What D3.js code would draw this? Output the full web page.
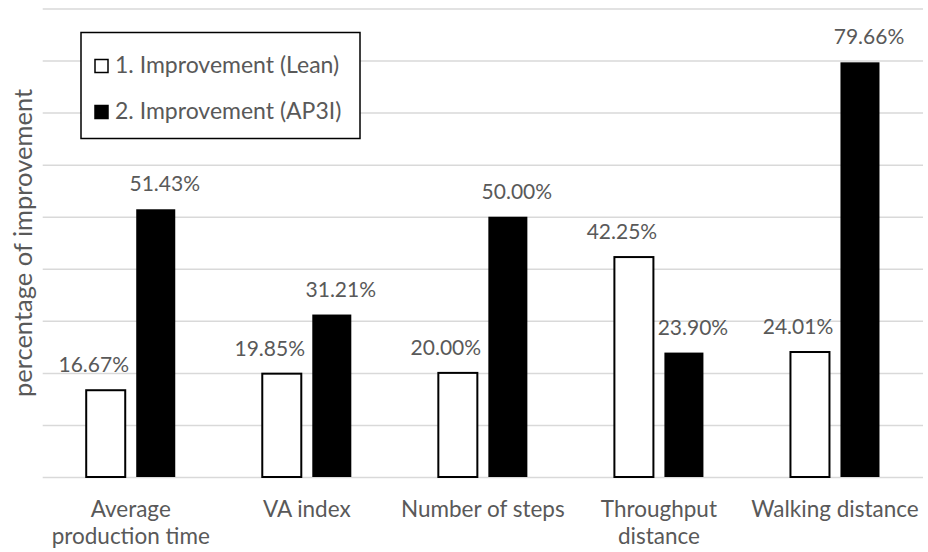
<!DOCTYPE html>
<html>
<head>
<meta charset="utf-8">
<script src="https://cdn.jsdelivr.net/npm/d3@7"></script>
<style>
  body { margin: 0; background: #fff; }
  text { font-family: Lato, "Open Sans", sans-serif; fill: #595959; }
</style>
</head>
<body>
<svg id="chart" width="928" height="552"></svg>
<script>
// categories (line-broken the way the chart wraps them)
const categories = ["Average production time", "VA index", "Number of steps", "Throughput distance", "Walking distance"];
const categoryLines = [["Average", "production time"], ["VA index"], ["Number of steps"], ["Throughput", "distance"], ["Walking distance"]];
const seriesNames = ["1. Improvement (Lean)", "2. Improvement (AP3I)"];
const leanValues = [16.67, 19.85, 20.00, 42.25, 24.01];
const ap3iValues = [51.43, 31.21, 50.00, 23.90, 79.66];
const gridTicks = [0, 10, 20, 30, 40, 50, 60, 70, 80, 90];

const svg = d3.select('#chart');
const margin = { top: 8.5, bottom: 75, right: 5, left: 42.7 };
const width = 928, height = 552;
const innerWidth = width - margin.left - margin.right;
const innerHeight = height - margin.top - margin.bottom;

const g = svg.append('g')
  .attr('transform', `translate(${margin.left},${margin.top})`);

const xScale = d3.scaleBand()
  .domain(categories)
  .range([0, innerWidth]);

const xSub = d3.scaleBand()
  .domain(["lean", "ap3i"])
  .range([0, xScale.bandwidth()])
  .paddingInner(0.22)
  .paddingOuter(0.87);

const yScale = d3.scaleLinear()
  .domain([0, 90])
  .range([innerHeight, 0]);

//gridlines, no tick labels
const yAxis = d3.axisLeft(yScale)
  .tickValues(gridTicks)
  .tickSize(-innerWidth)
  .tickFormat('');
g.append('g').call(yAxis)
  .call(a => a.select('.domain').remove())
  .selectAll('line')
  .attr('stroke', '#d9d9d9')
  .attr('stroke-width', 1.5);

const rows = categories.map((c, i) => ({ cat: c, lean: leanValues[i], ap3i: ap3iValues[i], lines: categoryLines[i] }));

// white bars
g.selectAll('.leanBar')
  .data(rows)
  .enter()
  .append('rect')
  .attr('x', d => xScale(d.cat) + xSub('lean'))
  .attr('y', d => yScale(d.lean))
  .attr('width', xSub.bandwidth())
  .attr('height', d => yScale(0) - yScale(d.lean))
  .attr('fill', '#fff')
  .attr('stroke', '#000')
  .attr('stroke-width', 2);

// black bars
g.selectAll('.ap3iBar')
  .data(rows)
  .enter()
  .append('rect')
  .attr('x', d => xScale(d.cat) + xSub('ap3i'))
  .attr('y', d => yScale(d.ap3i))
  .attr('width', xSub.bandwidth())
  .attr('height', d => yScale(0) - yScale(d.ap3i))
  .attr('fill', '#000');

// value labels (nudged a bit like in the original)
g.selectAll('.leanLabel')
  .data(rows)
  .enter()
  .append('text')
  .attr('x', d => xScale(d.cat) + xSub('lean') + xSub.bandwidth() / 2 - 12)
  .attr('y', d => yScale(d.lean) - 18)
  .attr('text-anchor', 'middle')
  .style('font-size', '21px')
  .text(d => d.lean.toFixed(2) + '%');

g.selectAll('.ap3iLabel')
  .data(rows)
  .enter()
  .append('text')
  .attr('x', d => xScale(d.cat) + xSub('ap3i') + xSub.bandwidth() / 2 + 9)
  .attr('y', d => yScale(d.ap3i) - 18)
  .attr('text-anchor', 'middle')
  .style('font-size', '21px')
  .text(d => d.ap3i.toFixed(2) + '%');

// category labels
const catText = g.selectAll('.catLabel')
  .data(rows)
  .enter()
  .append('text')
  .attr('text-anchor', 'middle')
  .attr('x', d => xScale(d.cat) + xScale.bandwidth() / 2)
  .attr('y', innerHeight + 40)
  .style('font-size', '22.5px');
catText.selectAll('tspan')
  .data(d => d.lines)
  .enter()
  .append('tspan')
  .attr('x', function () { return d3.select(this.parentNode).attr('x'); })
  .attr('dy', (d, i) => i === 0 ? 0 : 27)
  .text(d => d);

// y title
svg.append('text')
  .attr('transform', 'rotate(-90)')
  .attr('x', -243)
  .attr('y', 32)
  .attr('text-anchor', 'middle')
  .style('font-size', '25.5px')
  .text('percentage of improvement');

// legend
const legend = svg.append('g').attr('transform', 'translate(81,32.5)');
legend.append('rect')
  .attr('width', 279)
  .attr('height', 106)
  .attr('fill', '#fff')
  .attr('stroke', '#000')
  .attr('stroke-width', 1.5);
const items = legend.selectAll('.item')
  .data(seriesNames)
  .enter()
  .append('g')
  .attr('transform', (d, i) => `translate(14,${27 + i * 46})`);
items.append('rect')
  .attr('width', 13)
  .attr('height', 13)
  .attr('fill', (d, i) => i === 0 ? '#fff' : '#000')
  .attr('stroke', '#000')
  .attr('stroke-width', 1.5);
items.append('text')
  .attr('x', 20)
  .attr('y', 13.5)
  .style('font-size', '23px')
  .text(d => d);
</script>
</body>
</html>
